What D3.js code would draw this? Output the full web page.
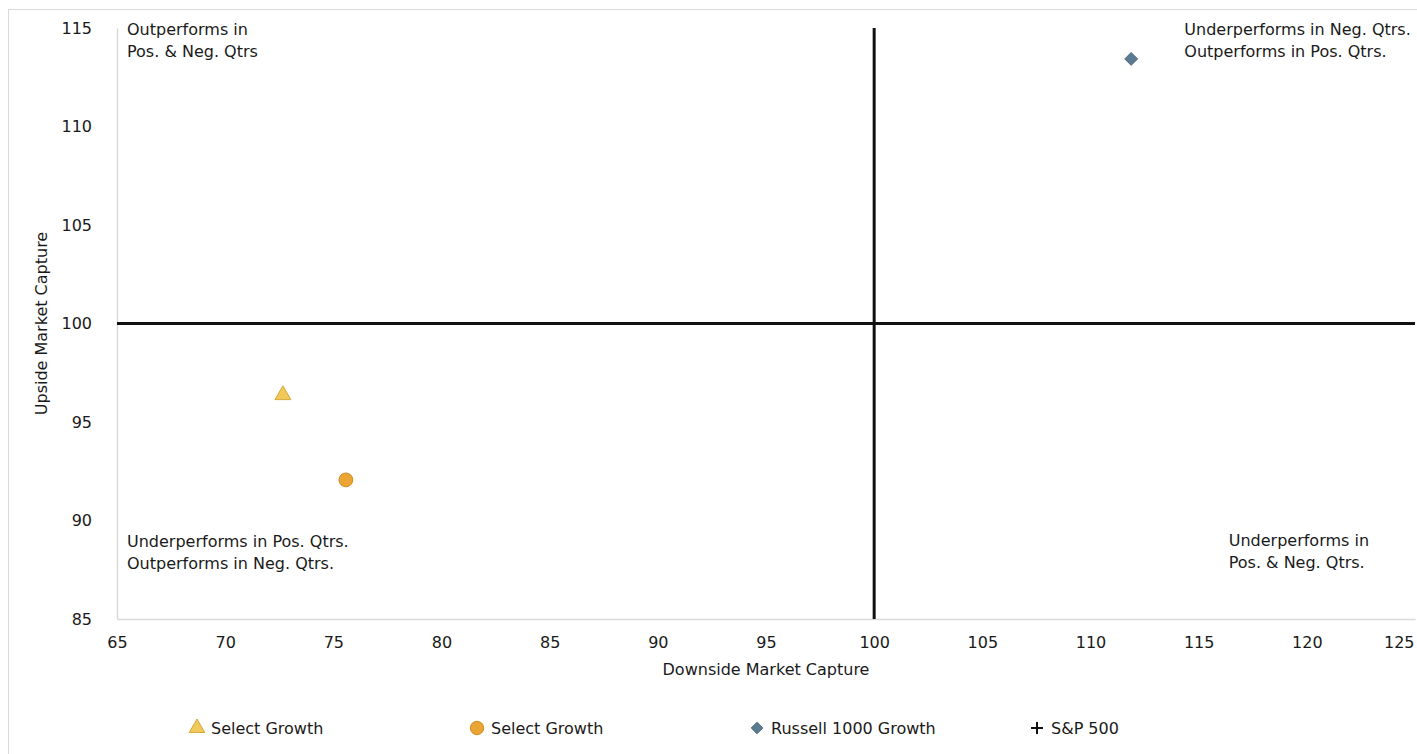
<!DOCTYPE html>
<html><head><meta charset="utf-8">
<script src="https://cdn.jsdelivr.net/npm/d3@7"></script>
<style>
html,body{margin:0;padding:0;background:#fff;}
svg text{font-family:"DejaVu Sans",sans-serif;fill:#1a1a1a;}
</style></head>
<body><svg id="c" width="1417" height="754"></svg>
<script>
const seriesNames = ["Select Growth","Select Growth","Russell 1000 Growth","S&P 500"];
const seriesShapes = ["triangle","circle","diamond","plus"];
const seriesColors = ["#f1c85a","#eaa534","#5b7b91","#111111"];
const seriesStrokes = ["#d6a93a","#cf8b1c","#4a6678","#111111"];
const downsideCapture = [72.67, 75.58, 111.88, 100];
const upsideCapture = [96.37, 92.06, 113.43, 100];
const xTicks = [65,70,75,80,85,90,95,100,105,110,115,120,125];
const yTicks = [85,90,95,100,105,110,115];
const quadrantLabels = [
  {lines:["Outperforms in","Pos. & Neg. Qtrs"], x:65, y:115, dx:10},
  {lines:["Underperforms in Neg. Qtrs.","Outperforms in Pos. Qtrs."], x:114.2, y:115, dx:3},
  {lines:["Underperforms in Pos. Qtrs.","Outperforms in Neg. Qtrs."], x:65, y:89.0, dx:10},
  {lines:["Underperforms in","Pos. & Neg. Qtrs."], x:116.25, y:89.05, dx:3}
];
const xTitle = "Downside Market Capture";
const yTitle = "Upside Market Capture";

const FONT = "DejaVu Sans, sans-serif";
const FS = 16;
const svg = d3.select("#c");
const x = d3.scaleLinear().domain([65,125]).range([117,1415]);
const y = d3.scaleLinear().domain([85,115]).range([619,28]);

// outer border
svg.append("rect").attr("x",8.5).attr("y",9.5).attr("width",1430).attr("height",770)
  .attr("fill","none").attr("stroke","#d9d9d9").attr("stroke-width",1);

// axes
const xAxis = d3.axisBottom(x).tickValues(xTicks).tickSize(0).tickPadding(18);
const gx = svg.append("g").attr("transform",`translate(0,${y(85)})`).call(xAxis);
gx.select(".domain").attr("stroke","#d9d9d9").attr("stroke-width",1.5);
gx.selectAll("text").attr("font-size",FS).attr("fill","#1a1a1a").style("font-family",FONT);
gx.selectAll(".tick").filter(d=>d===125).select("text").attr("text-anchor","end").attr("dx",-1);

const yAxis = d3.axisLeft(y).tickValues(yTicks).tickSize(0).tickPadding(25);
const gy = svg.append("g").attr("transform",`translate(${x(65)},0)`).call(yAxis);
gy.select(".domain").attr("stroke","#d9d9d9").attr("stroke-width",1.5);
gy.selectAll("text").attr("font-size",FS).attr("fill","#1a1a1a").style("font-family",FONT);

// titles
svg.append("text").attr("x",(x(65)+x(125))/2).attr("y",675).attr("text-anchor","middle")
  .attr("font-size",FS).text(xTitle);
svg.append("text").attr("transform",`translate(47,${y(100)}) rotate(-90)`).attr("text-anchor","middle")
  .attr("font-size",FS).text(yTitle);

// quadrant lines (S&P 500 reference at 100/100)
svg.append("line").attr("x1",x(65)).attr("x2",x(125)).attr("y1",y(100)).attr("y2",y(100))
  .attr("stroke","#111").attr("stroke-width",3);
svg.append("line").attr("x1",x(100)).attr("x2",x(100)).attr("y1",y(115)).attr("y2",y(85))
  .attr("stroke","#111").attr("stroke-width",3);

// quadrant labels
quadrantLabels.forEach(q=>{
  const t = svg.append("text").attr("font-size",FS).attr("x",x(q.x)+q.dx).attr("y",y(q.y)+7);
  q.lines.forEach((l,i)=>t.append("tspan").attr("x",x(q.x)+q.dx).attr("dy",i===0?0:22).text(l));
});

function shapePath(shape, size){
  const m = {triangle:d3.symbolTriangle, circle:d3.symbolCircle, diamond:d3.symbolDiamond2, plus:d3.symbolCross};
  return d3.symbol().type(m[shape]).size(size)();
}
const sizes = {triangle:110, circle:150, diamond:105, plus:0};

// points
const pts = seriesNames.map((n,i)=>({n,shape:seriesShapes[i],fill:seriesColors[i],stroke:seriesStrokes[i],xv:downsideCapture[i],yv:upsideCapture[i]}));
pts.filter(p=>p.shape!=="plus").forEach(p=>{
  svg.append("path").attr("d",shapePath(p.shape,sizes[p.shape]))
    .attr("transform",`translate(${x(p.xv)},${y(p.yv)})`)
    .attr("fill",p.fill).attr("stroke",p.stroke).attr("stroke-width",1);
});

// legend
const lg = svg.append("g").attr("transform","translate(197,728)");
pts.forEach((p,i)=>{
  const g = lg.append("g").attr("transform",`translate(${i*280},0)`);
  if(p.shape==="plus"){
    g.append("line").attr("x1",-6).attr("x2",6).attr("y1",0).attr("y2",0).attr("stroke","#111").attr("stroke-width",2);
    g.append("line").attr("x1",0).attr("x2",0).attr("y1",-6).attr("y2",6).attr("stroke","#111").attr("stroke-width",2);
  } else {
    g.append("path").attr("d",shapePath(p.shape,p.shape==="diamond"?85:(p.shape==="circle"?140:105)))
      .attr("fill",p.fill).attr("stroke",p.stroke).attr("stroke-width",1);
  }
  g.append("text").attr("x",14).attr("y",6).attr("font-size",FS).text(p.n);
});
</script></body></html>
